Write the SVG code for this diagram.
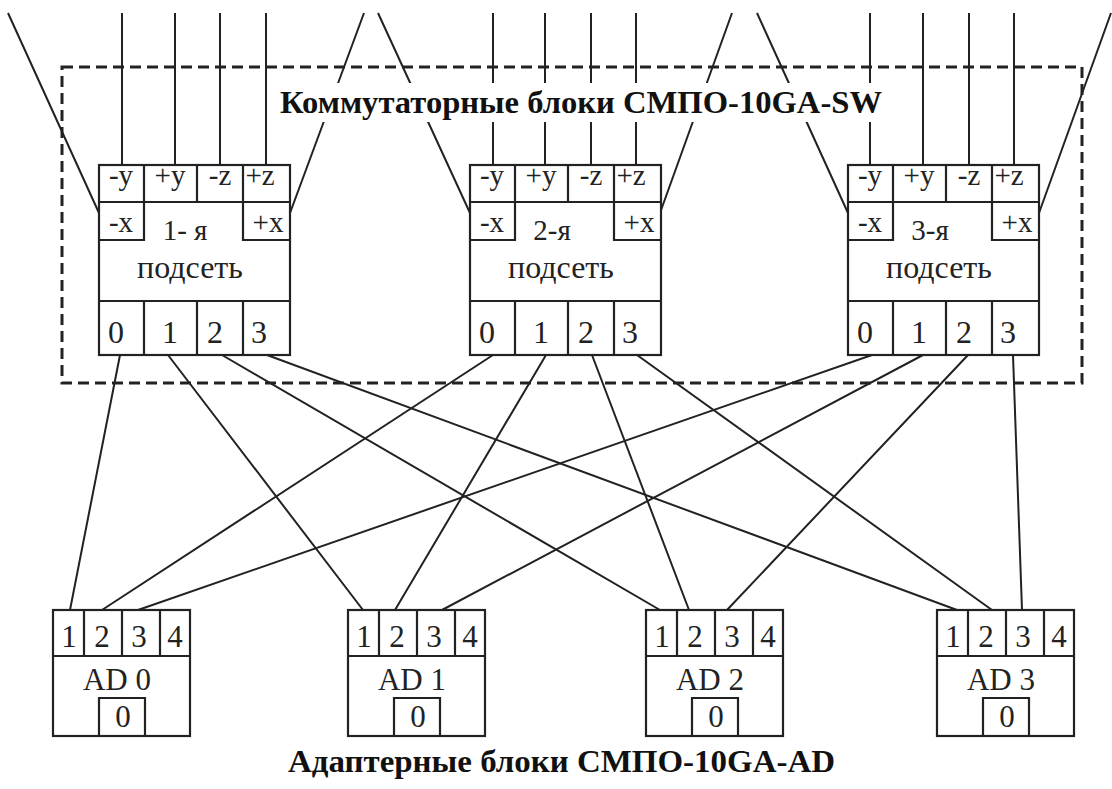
<svg xmlns="http://www.w3.org/2000/svg" width="1112" height="789" viewBox="0 0 1112 789">
<defs>
<style>
.ln{stroke:#222;stroke-width:2;fill:none}
.bx{stroke:#222;stroke-width:2.2;fill:#fff}
.dv{stroke:#222;stroke-width:2.2;fill:none}
.t{font-family:"Liberation Serif","Times New Roman",serif;fill:#222}
.s{font-size:29px}
.b{font-size:32px}
.a{font-size:31px}
.ti{font-family:"Liberation Serif","Times New Roman",serif;font-weight:bold;font-size:32px;fill:#111}
.dash{stroke:#222;stroke-width:3;fill:none;stroke-dasharray:11 6}
</style>
<g id="swtpl">
<rect class="bx" x="0" y="0" width="191" height="190"/>
<path class="dv" d="M0 37H191M45 0V75H0M98 0V37M144 0V75H191M0 136H191M45 136V190M98 136V190M144 136V190"/>
<g class="t s" text-anchor="middle">
<text x="22" y="20">-y</text>
<text x="71" y="20">+y</text>
<text x="121" y="20">-z</text>
<text x="161" y="20">+z</text>
<text x="22" y="67">-x</text>
<text x="169" y="67">+x</text>
</g>
<text class="t b" x="91" y="113" text-anchor="middle">подсеть</text>
<g class="t b">
<text x="9" y="178">0</text>
<text x="63" y="178">1</text>
<text x="108" y="178">2</text>
<text x="152" y="178">3</text>
</g>
</g>
<g id="adtpl">
<rect class="bx" x="0" y="0" width="137" height="126"/>
<path class="dv" d="M0 46H137M31 0V46M69 0V46M107 0V46M46 126V88H92V126"/>
<g class="t a" text-anchor="middle">
<text x="16" y="37">1</text>
<text x="49" y="37">2</text>
<text x="86" y="37">3</text>
<text x="122" y="37">4</text>
<text x="70" y="117">0</text>
</g>
</g>
</defs>
<rect width="1112" height="789" fill="#fff"/>
<rect id="sw-frame" class="dash" x="62" y="67" width="1020" height="316"/>
<g id="connectors">
<path class="ln" d="M122 13V165M175 13V165M220 13V165M266 13V165"/>
<path class="ln" d="M493 13V165M545 13V165M591 13V165M636 13V165"/>
<path class="ln" d="M870 13V165M923 13V165M969 13V165M1014 13V165"/>
<path class="ln" d="M8 13L99 213M364 13L290 213M378 13L470 213M732 13L660 213M757 13L848 213M1111 13L1039 213"/>
<path class="ln" d="M120 355L70 610M168 355L363 610M222 355L660 610M267 355L957 610"/>
<path class="ln" d="M493 355L102 610M546 355L395 610M592 355L689 610M637 355L992 610"/>
<path class="ln" d="M872 355L138 610M923 355L442 610M968 355L727 610M1013 355L1022 610"/>
</g>
<g id="title-sw">
<rect x="275" y="83" width="613" height="39" fill="#fff"/>
<text class="ti" x="280" y="113" textLength="602" lengthAdjust="spacingAndGlyphs">Коммутаторные блоки СМПО-10GA-SW</text>
</g>
<g id="sw1"><use href="#swtpl" x="99" y="165"/><text class="t s" x="185" y="240" text-anchor="middle">1- я</text></g>
<g id="sw2"><use href="#swtpl" x="470" y="165"/><text class="t s" x="552" y="240" text-anchor="middle">2-я</text></g>
<g id="sw3"><use href="#swtpl" x="848" y="165"/><text class="t s" x="930" y="240" text-anchor="middle">3-я</text></g>
<g id="ad0"><use href="#adtpl" x="53" y="610"/><text class="t a" x="117" y="690" text-anchor="middle">AD 0</text></g>
<g id="ad1"><use href="#adtpl" x="348" y="610"/><text class="t a" x="412" y="690" text-anchor="middle">AD 1</text></g>
<g id="ad2"><use href="#adtpl" x="646" y="610"/><text class="t a" x="710" y="690" text-anchor="middle">AD 2</text></g>
<g id="ad3"><use href="#adtpl" x="937" y="610"/><text class="t a" x="1001" y="690" text-anchor="middle">AD 3</text></g>
<g id="title-ad">
<text class="ti" x="288" y="772" textLength="547" lengthAdjust="spacingAndGlyphs">Адаптерные блоки СМПО-10GA-AD</text>
</g>
</svg>
